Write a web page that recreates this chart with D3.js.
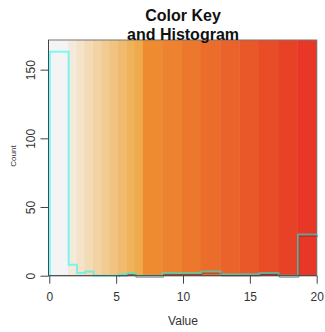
<!DOCTYPE html>
<html>
<head>
<meta charset="utf-8">
<script src="https://cdn.jsdelivr.net/npm/d3@7"></script>
<style>
  body { margin: 0; background: #fff; }
  svg { display: block; font-family: "Liberation Sans", Arial, sans-serif; }
</style>
</head>
<body>
<div id="viz-container"></div>
<script>
// colour key breaks (value axis) and the colour of each band
const breaks = [0, 1.4, 2.02, 2.64, 3.27, 3.89, 4.51, 5.13, 5.76, 6.38, 7,
  8.44, 9.89, 11.33, 12.78, 14.22, 15.67, 17.11, 18.56, 20];
const bandColors = ['#f4f4f4', '#f4eadb', '#f4e3c9', '#f3dbb6', '#f2d3a4', '#f2cb92',
  '#f1c380', '#f0bb6e', '#f0b35c', '#efab4b', '#ee8b31', '#ed8230', '#ec782e',
  '#eb6d2c', '#ea632b', '#e95829', '#e84d28', '#e74226', '#e83727'];
// histogram counts, one per band
const counts = [163, 8, 2, 3, 0, 0, 0, 1, 2, 0, 0, 2, 2, 3, 1, 1, 2, 0, 30];
const xTicks = [0, 5, 10, 15, 20];
const yTicks = [0, 50, 100, 150];

const W = 325, H = 332;
const margin = {top: 40, right: 8.3, bottom: 56.3, left: 49.3};

const svg = d3.select('#viz-container')
  .append('svg')
  .attr('width', W)
  .attr('height', H);

const x = d3.scaleLinear()
  .domain([0, 20])
  .range([margin.left, W - margin.right]);
const y = d3.scaleLinear()
  .domain([0, d3.max(counts) / 0.95])
  .range([H - margin.bottom, margin.top]);

// colour bands
svg.append('g')
  .selectAll('rect')
  .data(bandColors)
  .join('rect')
  .attr('x', (d, i) => x(breaks[i]))
  .attr('y', margin.top)
  .attr('width', (d, i) => x(breaks[i + 1]) - x(breaks[i]) + 0.4)
  .attr('height', y(0) - margin.top)
  .attr('fill', d => d);

// plot box
svg.append('rect')
  .attr('x', x(0) - 0.8)
  .attr('y', margin.top)
  .attr('width', x(20) - x(0) + 0.8)
  .attr('height', y(0) - margin.top)
  .attr('fill', 'none')
  .attr('stroke', '#777')
  .attr('stroke-width', 1);
svg.append('line')
  .attr('x1', x(0) - 0.8).attr('x2', x(0) - 0.8)
  .attr('y1', margin.top).attr('y2', y(0))
  .attr('stroke', '#444');

// histogram as a step line
const steps = [[breaks[0], 0]];
counts.forEach((c, i) => {
  steps.push([breaks[i], c]);
  steps.push([breaks[i + 1], c]);
});
const line = d3.line().x(d => x(d[0])).y(d => y(d[1]));

// faint dark echo of the steps (visible on the darker bands)
const echo = steps.filter(d => d[0] >= breaks[7]);
svg.append('path')
  .attr('d', line(echo))
  .attr('transform', 'translate(1.3,1.5)')
  .attr('fill', 'none')
  .attr('stroke', 'rgba(110,15,10,0.55)')
  .attr('stroke-width', 1);

svg.append('path')
  .attr('d', line(steps))
  .attr('transform', 'translate(0.6,0)')
  .attr('fill', 'none')
  .attr('stroke', 'rgba(0,255,255,0.5)')
  .attr('stroke-width', 2);

svg.append('line')
  .attr('x1', x(0) - 0.8).attr('x2', x(20))
  .attr('y1', y(0)).attr('y2', y(0))
  .attr('stroke', '#444');

// axes
const xAxis = svg.append('g')
  .attr('transform', `translate(0,${y(0)})`)
  .call(d3.axisBottom(x).tickValues(xTicks).tickSize(8).tickPadding(9).tickFormat(d3.format('d')));
xAxis.select('.domain').remove();
xAxis.selectAll('line').attr('stroke', '#444');
xAxis.selectAll('text').attr('font-size', 12).attr('fill', '#333').attr('font-family', null);

const yAxis = svg.append('g')
  .attr('transform', `translate(${x(0) - 0.8},0)`)
  .call(d3.axisLeft(y).tickValues(yTicks).tickSize(8).tickFormat(d3.format('d')));
yAxis.select('.domain').remove();
yAxis.selectAll('line').attr('stroke', '#444');
yAxis.selectAll('text')
  .attr('font-size', 12)
  .attr('fill', '#333')
  .attr('font-family', null)
  .attr('x', null).attr('dy', null)
  .attr('text-anchor', 'middle')
  .attr('transform', 'translate(-18,0)rotate(-90)')
  .attr('dy', '0.35em');

svg.append('text')
  .attr('x', (x(0) + x(20)) / 2)
  .attr('y', 325)
  .attr('text-anchor', 'middle')
  .attr('font-size', 12)
  .attr('fill', '#333')
  .text('Value');

svg.append('text')
  .attr('transform', `translate(16,156)rotate(-90)`)
  .attr('text-anchor', 'middle')
  .attr('font-size', 8)
  .attr('fill', '#333')
  .text('Count');

// title
const title = svg.append('text')
  .attr('text-anchor', 'middle')
  .attr('font-size', 16)
  .attr('font-weight', 'bold')
  .attr('fill', '#111');
title.append('tspan').attr('x', 183).attr('y', 21).text('Color Key');
title.append('tspan').attr('x', 183).attr('y', 40).text('and Histogram');
</script>
</body>
</html>
